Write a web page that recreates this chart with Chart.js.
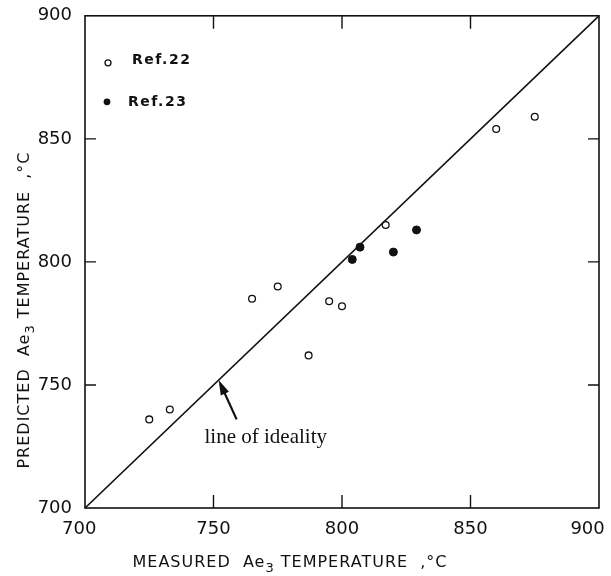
<!DOCTYPE html>
<html>
<head>
<meta charset="utf-8">
<script src="https://cdn.jsdelivr.net/npm/chart.js@4.4.1/dist/chart.umd.min.js"></script>
<style>
  body { margin: 0; background: #fff; }
  canvas { display: block; }
</style>
</head>
<body>
<canvas id="myChart" width="611" height="576"></canvas>
<script>
// measured vs predicted Ae3
var ref22X = [725, 733, 765, 775, 787, 795, 800, 817, 860, 875];
var ref22Y = [736, 740, 785, 790, 762, 784, 782, 815, 854, 859];
var ref23X = [804, 807, 820, 829];
var ref23Y = [801, 806, 804, 813];
var idealX = [700, 900];
var idealY = [700, 900];
var tickValues = [700, 750, 800, 850, 900];
var innerTicks = [750, 800, 850];
var arrowTip = [752, 752];
var arrowTail = [759, 736];
var noteAt = [746.5, 726.5];

function pts(xs, ys) {
  return xs.map(function (x, i) { return { x: x, y: ys[i] }; });
}

function drawTitle(ctx, parts, cx, cy, size) {
  ctx.letterSpacing = '1px';
  var total = 0;
  parts.forEach(function (p) {
    ctx.font = (p.sub ? size - 3 : size) + 'px "DejaVu Sans"';
    p.w = ctx.measureText(p.t).width;
    total += p.w;
  });
  var x = cx - total / 2;
  parts.forEach(function (p) {
    ctx.font = (p.sub ? size - 3 : size) + 'px "DejaVu Sans"';
    ctx.fillText(p.t, x, cy + (p.sub ? 5 : 0));
    x += p.w;
  });
  ctx.letterSpacing = '0px';
}

var extras = {
  id: 'extras',
  afterDraw: function (chart) {
    var ctx = chart.ctx;
    var a = chart.chartArea;
    var xs = chart.scales.x, ys = chart.scales.y;
    ctx.save();
    ctx.strokeStyle = '#111';
    ctx.fillStyle = '#111';

    // frame
    ctx.lineWidth = 1.6;
    ctx.strokeRect(a.left, a.top, a.right - a.left, a.bottom - a.top);

    // inward ticks on all four sides
    ctx.lineWidth = 1.4;
    innerTicks.forEach(function (v) {
      var px = xs.getPixelForValue(v);
      var py = ys.getPixelForValue(v);
      ctx.beginPath();
      ctx.moveTo(px, a.bottom); ctx.lineTo(px, a.bottom - 13);
      ctx.moveTo(px, a.top); ctx.lineTo(px, a.top + 13);
      ctx.moveTo(a.left, py); ctx.lineTo(a.left + 11, py);
      ctx.moveTo(a.right, py); ctx.lineTo(a.right - 11, py);
      ctx.stroke();
    });

    // legend
    ctx.lineWidth = 1.3;
    ctx.beginPath();
    ctx.arc(a.left + 23, a.top + 47, 3, 0, Math.PI * 2);
    ctx.stroke();
    ctx.beginPath();
    ctx.arc(a.left + 22, a.top + 86, 3.4, 0, Math.PI * 2);
    ctx.fill();
    ctx.font = 'bold 14px "DejaVu Sans"';
    ctx.letterSpacing = '1.5px';
    ctx.textBaseline = 'middle';
    ctx.fillText('Ref.22', a.left + 47, a.top + 45);
    ctx.fillText('Ref.23', a.left + 43, a.top + 87);
    ctx.letterSpacing = '0px';

    // arrow to the line of ideality
    var tx = xs.getPixelForValue(arrowTip[0]), ty = ys.getPixelForValue(arrowTip[1]);
    var bx = xs.getPixelForValue(arrowTail[0]), by = ys.getPixelForValue(arrowTail[1]);
    var ang = Math.atan2(ty - by, tx - bx);
    ctx.lineWidth = 2.2;
    ctx.beginPath();
    ctx.moveTo(bx, by);
    ctx.lineTo(tx - 8 * Math.cos(ang), ty - 8 * Math.sin(ang));
    ctx.stroke();
    ctx.beginPath();
    ctx.moveTo(tx, ty);
    ctx.lineTo(tx - 15 * Math.cos(ang) + 4.5 * Math.sin(ang), ty - 15 * Math.sin(ang) - 4.5 * Math.cos(ang));
    ctx.lineTo(tx - 15 * Math.cos(ang) - 4.5 * Math.sin(ang), ty - 15 * Math.sin(ang) + 4.5 * Math.cos(ang));
    ctx.closePath();
    ctx.fill();

    ctx.font = '21px "Liberation Serif"';
    ctx.textBaseline = 'alphabetic';
    ctx.textAlign = 'left';
    ctx.fillText('line of ideality', xs.getPixelForValue(noteAt[0]), ys.getPixelForValue(noteAt[1]));

    // axis titles
    drawTitle(ctx, [{ t: 'MEASURED  Ae' }, { t: '3', sub: true }, { t: ' TEMPERATURE  ,\u00b0C' }], 290, 567, 16);
    ctx.save();
    ctx.translate(29, 310);
    ctx.rotate(-Math.PI / 2);
    drawTitle(ctx, [{ t: 'PREDICTED  Ae' }, { t: '3', sub: true }, { t: ' TEMPERATURE  ,\u00b0C' }], 0, 0, 16);
    ctx.restore();

    ctx.restore();
  }
};

var ctx = document.getElementById('myChart').getContext('2d');
var myChart = new Chart(ctx, {
  type: 'scatter',
  data: {
    datasets: [{
      label: 'line of ideality',
      data: pts(idealX, idealY),
      showLine: true,
      borderColor: '#111',
      borderWidth: 1.6,
      pointRadius: 0,
      fill: false
    }, {
      label: 'Ref.22',
      data: pts(ref22X, ref22Y),
      pointRadius: 3.4,
      pointBorderWidth: 1.3,
      borderColor: '#111',
      backgroundColor: '#fff'
    }, {
      label: 'Ref.23',
      data: pts(ref23X, ref23Y),
      pointRadius: 4,
      pointBorderWidth: 1,
      borderColor: '#111',
      backgroundColor: '#111'
    }]
  },
  options: {
    responsive: false,
    animation: false,
    layout: { padding: { top: 13, right: 12, left: 0, bottom: 0 } },
    plugins: {
      legend: { display: false },
      tooltip: { enabled: false }
    },
    scales: {
      x: {
        type: 'linear',
        min: 700,
        max: 900,
        afterBuildTicks: function (s) { s.ticks = tickValues.map(function (v) { return { value: v }; }); },
        afterFit: function (s) { s.height = 68; s.paddingRight = 12; s.paddingLeft = 0; },
        grid: { display: false },
        border: { display: false },
        ticks: {
          padding: 3,
          color: '#111',
          maxRotation: 0,
          font: { family: 'DejaVu Sans', size: 18 },
          callback: function (v) {
            if (v === 700) return v + '  ';
            if (v === 900) return v + '    ';
            return '' + v;
          }
        }
      },
      y: {
        type: 'linear',
        min: 700,
        max: 900,
        afterBuildTicks: function (s) { s.ticks = tickValues.map(function (v) { return { value: v }; }); },
        afterFit: function (s) { s.width = 85; },
        grid: { display: false },
        border: { display: false },
        ticks: {
          padding: 5,
          color: '#111',
          font: { family: 'DejaVu Sans', size: 18 }
        }
      }
    }
  },
  plugins: [extras]
});
</script>
</body>
</html>
